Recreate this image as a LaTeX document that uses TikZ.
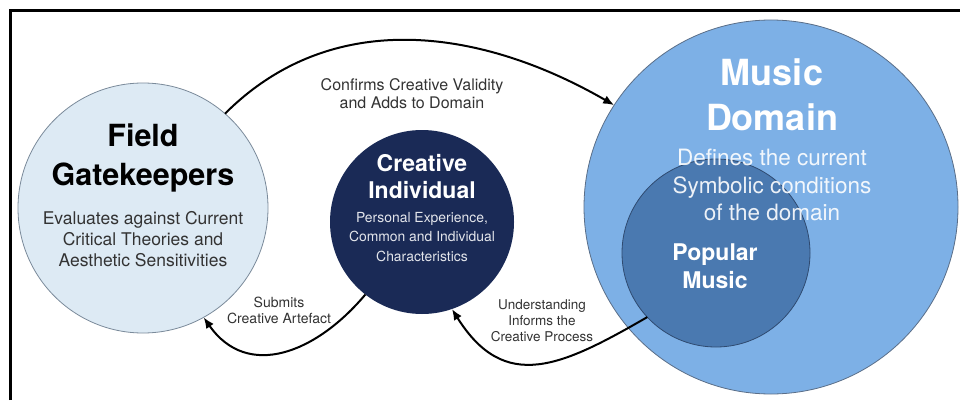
\documentclass[tikz,border=0pt]{standalone}
\usepackage{fontspec}
\setmainfont{TeX Gyre Heros}
\usetikzlibrary{arrows.meta}
\definecolor{fgfill}{HTML}{DDEAF4}
\definecolor{fgline}{HTML}{7A8A9A}
\definecolor{cifill}{HTML}{1A2A56}
\definecolor{mdfill}{HTML}{7DB0E6}
\definecolor{mdline}{HTML}{5A6E88}
\definecolor{pmfill}{HTML}{4A79B0}
\definecolor{pmline}{HTML}{2F4A70}
\definecolor{labtext}{HTML}{333333}
\tikzset{
  bubble/.style={circle, inner sep=0pt, outer sep=0pt, line width=0.8pt},
  txt/.style={inner sep=0pt, align=center},
  flow/.style={line width=2pt, -{Latex[length=11pt,width=9pt]}},
  lab/.style={inner sep=0pt, align=center, text=labtext},
}
\newcommand{\fs}[2]{\fontsize{#1}{#2}\selectfont}
\begin{document}
\begin{tikzpicture}[x=1pt,y=1pt]
\useasboundingbox (0,0) rectangle (960,400);
\fill[white] (0,0) rectangle (960,400);
% frame (top and left)
\draw[line width=3pt] (10,0) -- (10,389) -- (960,389);

% circles
\node[bubble, draw=fgline, fill=fgfill, minimum size=250pt] (fg) at (143,192) {};
\node[bubble, fill=cifill, minimum size=184pt] (ci) at (422,178) {};
\node[bubble, draw=mdline, fill=mdfill, minimum size=374pt] (md) at (771,193) {};
\node[bubble, draw=pmline, fill=pmfill, minimum size=188pt] (pm) at (716,147) {};

% texts
\node[txt, font=\fs{30.5}{39}\bfseries] (fgt) at (143,242) {Field\\Gatekeepers};
\node[txt, text=labtext, font=\fs{17.5}{21}] (fgd) at (143,161) {Evaluates against Current\\Critical Theories and\\Aesthetic Sensitivities};

\node[txt, text=white, font=\fs{23}{27}\bfseries] (cit) at (422,223) {Creative\\Individual};
\node[txt, text=white!88!cifill, font=\fs{13.9}{19.5}] (cid) at (422,163) {Personal Experience,\\Common and Individual\\Characteristics};

\node[txt, text=white, font=\fs{36}{45}\bfseries] (mdt) at (772,305) {Music\\Domain};
\node[txt, text=white, opacity=0.9, font=\fs{22.5}{27.5}] (mdd) at (772,215) {Defines the current\\Symbolic conditions\\of the domain};

\node[txt, text=white, font=\fs{23}{28}\bfseries] (pmt) at (715,134) {Popular\\Music};

% connectors
\draw[flow] (fg.49) to[out=45, in=150] (md.147);
\draw[flow] (ci.232) to[out=230, in=305, looseness=1.2] (fg.299);
\draw[flow] (pm.223) to[out=210, in=302, looseness=1.3] (ci.289);

% connector labels
\node[lab, font=\fs{16}{18}] (l1) at (412,306) {Confirms Creative Validity\\and Adds to Domain};
\node[lab, font=\fs{14}{16}] (l2) at (279,90) {Submits\\Creative Artefact};
\node[lab, font=\fs{13.5}{16}] (l3) at (542,79) {Understanding\\Informs the\\Creative Process};
\end{tikzpicture}
\end{document}
